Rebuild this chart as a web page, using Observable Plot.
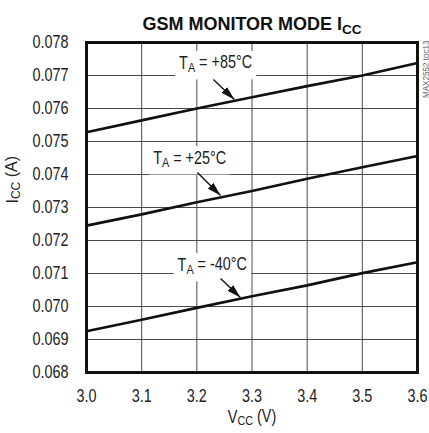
<!DOCTYPE html>
<html><head><meta charset="utf-8">
<script src="https://cdn.jsdelivr.net/npm/d3@7"></script>
<script src="https://cdn.jsdelivr.net/npm/@observablehq/plot@0.6"></script>
<style>
body{margin:0;background:#fff}
#chart svg{font-family:"Liberation Sans",Arial,sans-serif}
</style>
</head><body><div id="chart"></div>
<script>
// data
const vcc = [3.0, 3.1, 3.2, 3.3, 3.4, 3.5, 3.6];
const icc85 = [0.07528, 0.07564, 0.07600, 0.07634, 0.07668, 0.07700, 0.07738];
const icc25 = [0.07245, 0.07279, 0.07316, 0.07350, 0.07387, 0.07422, 0.07456];
const iccM40 = [0.06925, 0.06960, 0.06996, 0.07031, 0.07064, 0.07101, 0.07134];
const xTicks = [3.0, 3.1, 3.2, 3.3, 3.4, 3.5, 3.6];
const yTicks = [0.068, 0.069, 0.070, 0.071, 0.072, 0.073, 0.074, 0.075, 0.076, 0.077, 0.078];
const seriesNames = ["+85°C", "+25°C", "-40°C"];
const labelText = ["T_A = +85°C", "T_A = +25°C", "T_A = -40°C"];
const labelX = [3.234, 3.187, 3.228];
const labelY = [0.07736, 0.07448, 0.07124];
const arrowX1 = [3.230, 3.201, 3.243];
const arrowY1 = [0.07688, 0.07406, 0.07085];
const arrowX2 = [3.268, 3.243, 3.279];
const arrowY2 = [0.07627, 0.07336, 0.07027];
const titleText = "GSM MONITOR MODE I_CC";
const xLabel = "V_CC (V)";
const yLabel = "I_CC (A)";
const sideNote = "MAX2552 toc13";

const series = [icc85, icc25, iccM40];
const rows = series.flatMap((vals, s) => vals.map((v, i) => ({series: seriesNames[s], x: vcc[i], y: v})));
const labels = labelText.map((t, i) => ({t, x: labelX[i], y: labelY[i]}));
const arrows = arrowX1.map((_, i) => ({x1: arrowX1[i], y1: arrowY1[i], x2: arrowX2[i], y2: arrowY2[i]}));

const chart = Plot.plot({
  width: 429,
  height: 433,
  marginLeft: 86,
  marginRight: 12,
  marginTop: 42,
  marginBottom: 61,
  style: {fontSize: "18px", color: "#222", background: "#fff"},
  x: {domain: [3.0, 3.6], ticks: xTicks, tickFormat: d3.format(".1f"), tickSize: 0, tickPadding: 17, label: null},
  y: {domain: [0.068, 0.078], ticks: yTicks, tickFormat: d3.format(".3f"), tickSize: 0, tickPadding: 18, label: null},
  marks: [
    Plot.gridX(xTicks, {stroke: "#4a4a4a", strokeOpacity: 1, strokeWidth: 1}),
    Plot.gridY(yTicks, {stroke: "#4a4a4a", strokeOpacity: 1, strokeWidth: 1}),
    Plot.line(rows, {x: "x", y: "y", z: "series", stroke: "#111", strokeWidth: 2.7}),
    Plot.text(labels, {x: "x", y: "y", text: "t", fontSize: 18, fill: "#222"}),
    Plot.link(arrows, {x1: "x1", y1: "y1", x2: "x2", y2: "y2", stroke: "#111", strokeWidth: 1.4}),
    Plot.frame({stroke: "#111", strokeWidth: 3}),
    Plot.text([titleText], {frameAnchor: "top", dy: -25, fontSize: 18, fontWeight: "bold", fill: "#111"}),
    Plot.text([xLabel], {frameAnchor: "bottom", dy: 50, fontSize: 18, fill: "#222"}),
    Plot.text([yLabel], {frameAnchor: "left", dx: -74, dy: -4, rotate: -90, fontSize: 16, fill: "#222"}),
    Plot.text([sideNote], {frameAnchor: "top-right", dx: 5.5, dy: -2, rotate: -90, textAnchor: "end", fontSize: 9, fill: "#666"})
  ]
});

document.getElementById("chart").appendChild(chart);
const svg = d3.select(chart);

const isBold = el => el.getAttribute("font-weight") === "bold" || (el.parentNode && el.parentNode.getAttribute("font-weight") === "bold");

// narrow the regular-weight texts (Arial Narrow look)
svg.selectAll("text").each(function() {
  const el = this;
  if (isBold(el)) return;
  const content = el.textContent;
  const sx = content === yLabel ? 1.0 : content === sideNote ? 0.9 : 0.8;
  const xa = el.getAttribute("x");
  let pre = "";
  if (xa != null && !/em/.test(xa)) { pre = ` translate(${+xa},0)`; el.removeAttribute("x"); }
  const t = el.getAttribute("transform") || "";
  el.setAttribute("transform", `${t}${pre} scale(${sx},1)`);
});

// subscripts
svg.selectAll("text").each(function() {
  const el = this;
  const txt = el.textContent;
  const m = /^(.*?)_(\w+)(.*)$/.exec(txt);
  if (!m) return;
  const shift = isBold(el) ? 0.3 : 0.2;
  while (el.firstChild) el.removeChild(el.firstChild);
  const sel = d3.select(el);
  sel.append("tspan").text(m[1]);
  sel.append("tspan").attr("dy", shift + "em").style("font-size", "75%").text(m[2]);
  if (m[3]) sel.append("tspan").attr("dy", (-shift) + "em").text(m[3]);
});

// white boxes behind the annotation labels
svg.selectAll("text").filter(function() { return /^TA = .*°C$/.test(this.textContent); }).each(function() {
  const b = this.getBBox();
  const tr = this.getAttribute("transform");
  const r = document.createElementNS("http://www.w3.org/2000/svg", "rect");
  r.setAttribute("x", b.x - 5);
  r.setAttribute("y", b.y - 1);
  r.setAttribute("width", b.width + 10);
  r.setAttribute("height", b.height + 5);
  r.setAttribute("fill", "#fff");
  if (tr) r.setAttribute("transform", tr);
  this.parentNode.insertBefore(r, this);
});

// filled arrowheads
const defs = svg.insert("defs", ":first-child");
defs.append("marker")
  .attr("id", "ahead")
  .attr("viewBox", "0 0 10 10")
  .attr("preserveAspectRatio", "none")
  .attr("refX", 10).attr("refY", 5)
  .attr("markerUnits", "userSpaceOnUse")
  .attr("markerWidth", 14).attr("markerHeight", 8)
  .attr("orient", "auto")
  .append("path").attr("d", "M0,0L10,5L0,10Z").attr("fill", "#111");
svg.selectAll("g[aria-label=link] path").attr("marker-end", "url(#ahead)");
</script>
</body></html>
